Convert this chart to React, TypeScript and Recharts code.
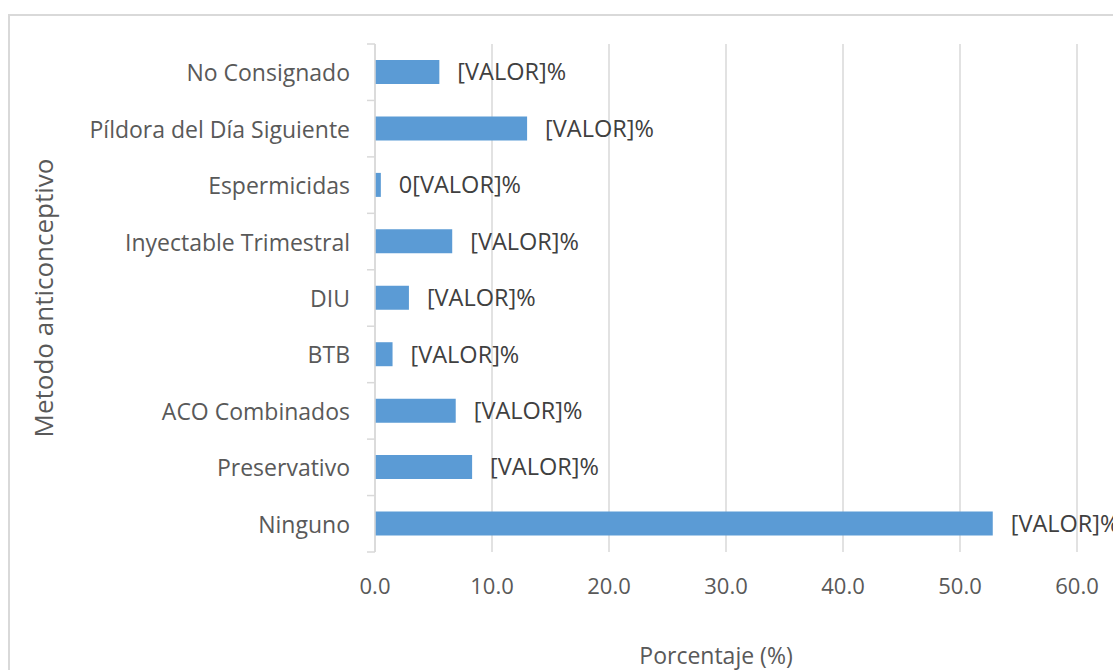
import { BarChart, Bar, XAxis, YAxis, CartesianGrid, LabelList } from "recharts";

// ─── Data ────────────────────────────────────────────────────────────────────

const categories = [
  "No Consignado",
  "Píldora del Día Siguiente",
  "Espermicidas",
  "Inyectable Trimestral",
  "DIU",
  "BTB",
  "ACO Combinados",
  "Preservativo",
  "Ninguno",
];
const percentages = [5.5, 13.0, 0.5, 6.6, 2.9, 1.5, 6.9, 8.3, 52.8];
const valueLabels = [
  "[VALOR]%",
  "[VALOR]%",
  "0[VALOR]%",
  "[VALOR]%",
  "[VALOR]%",
  "[VALOR]%",
  "[VALOR]%",
  "[VALOR]%",
  "[VALOR]%",
];
const xTicks = [0, 10, 20, 30, 40, 50, 60];

const data = categories.map((name, i) => ({
  name,
  value: percentages[i],
  label: valueLabels[i],
}));

// ─── Styles ──────────────────────────────────────────────────────────────────

const FONT = "'Open Sans', 'Noto Sans', sans-serif";
const TEXT = "#595959";
const GRID = "#d9d9d9";
const BAR = "#5b9bd5";

// Excel-style category tick: label plus boundary marks between bands
const CategoryTick = (props: any) => {
  const { x, y, payload, index, visibleTicksCount } = props;
  const half = payload.offset ?? 28;
  const axisX = x + 25;
  return (
    <g>
      <text
        x={x}
        y={y}
        textAnchor="end"
        dominantBaseline="central"
        fontFamily={FONT}
        fontSize={23}
        fill={TEXT}
      >
        {payload.value}
      </text>
      <line x1={axisX - 8} x2={axisX} y1={y - half} y2={y - half} stroke={GRID} strokeWidth={1.5} />
      {index === visibleTicksCount - 1 && (
        <line x1={axisX - 8} x2={axisX} y1={y + half} y2={y + half} stroke={GRID} strokeWidth={1.5} />
      )}
    </g>
  );
};

export default function App() {
  return (
    <div
      style={{
        position: "absolute",
        left: 0,
        top: 0,
        width: 1113,
        height: 670,
        overflow: "hidden",
        background: "#fff",
      }}
    >
      <div
        style={{
          position: "absolute",
          left: 8,
          top: 14,
          width: 1200,
          height: 700,
          border: `2px solid ${GRID}`,
        }}
      />
      <div style={{ position: "absolute", left: 0, top: 0 }}>
        <BarChart
          width={1113}
          height={670}
          data={data}
          layout="vertical"
          margin={{ top: 44, right: 36, left: 0, bottom: 0 }}
        >
          <CartesianGrid horizontal={false} stroke={GRID} strokeWidth={1.5} />
          <XAxis
            type="number"
            domain={[0, 60]}
            ticks={xTicks}
            tickFormatter={(v: number) => v.toFixed(1)}
            axisLine={false}
            tickLine={false}
            tickMargin={20}
            height={118}
            tick={{ fill: TEXT, fontSize: 22, fontFamily: FONT }}
            label={{
              content: () => (
                <text
                  x={716}
                  y={664}
                  textAnchor="middle"
                  fontFamily={FONT}
                  fontSize={23}
                  fill={TEXT}
                >
                  Porcentaje (%)
                </text>
              ),
            }}
          />
          <YAxis
            type="category"
            dataKey="name"
            width={375}
            axisLine={{ stroke: GRID, strokeWidth: 1.5 }}
            tickLine={false}
            tickSize={0}
            tickMargin={25}
            interval={0}
            tick={<CategoryTick />}
            label={{
              content: (p: any) => {
                const cy = p.viewBox ? p.viewBox.y + p.viewBox.height / 2 : 298;
                return (
                  <text
                    x={43}
                    y={cy}
                    transform={`rotate(-90 43 ${cy})`}
                    textAnchor="middle"
                    dominantBaseline="central"
                    fontFamily={FONT}
                    fontSize={26}
                    fill={TEXT}
                  >
                    Metodo anticonceptivo
                  </text>
                );
              },
            }}
          />
          <Bar dataKey="value" fill={BAR} barSize={24} isAnimationActive={false}>
            <LabelList
              dataKey="label"
              position="right"
              offset={18}
              fill="#404040"
              fontSize={23.5}
              fontFamily={FONT}
            />
          </Bar>
        </BarChart>
      </div>
    </div>
  );
}
